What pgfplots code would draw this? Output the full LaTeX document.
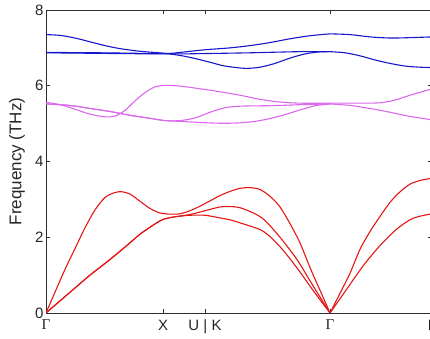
\documentclass[border=0pt]{standalone}
\usepackage{fontspec}
\setmainfont{Liberation Sans}
\newfontfamily\seriffont{Liberation Serif}
\usepackage{pgfplots}
\pgfplotsset{compat=1.18}
\definecolor{bandblue}{RGB}{22,22,205}
\definecolor{bandmag}{RGB}{218,105,235}
\definecolor{bandred}{RGB}{228,22,22}
\definecolor{axgray}{RGB}{45,45,45}
\begin{document}
\begin{tikzpicture}
\begin{axis}[
  scale only axis, width=386pt, height=303pt,
  xmin=46, xmax=432, ymin=0, ymax=8,
  xtick={46,163,205,330,432},
  xticklabels={{\seriffont Γ}, X, U | K, {\seriffont Γ}, L},
  ytick={0,2,4,6,8},
  xtick pos=both, ytick pos=both,
  tick align=inside,
  major tick length=4pt,
  axis line style={axgray, line width=0.8pt},
  tick style={axgray, line width=0.8pt},
  ticklabel style={font=\fontsize{15}{17}\selectfont, text=black!85},
  yticklabel style={xshift=1pt},
  xticklabel style={yshift=-3.5pt},
  /pgf/number format/assume math mode=true,
  ylabel={Frequency (THz)},
  every axis y label/.style={at={(axis description cs:-0.075,0.5)}, rotate=90, anchor=center, font=\fontsize{17}{19}\selectfont, text=black!85},
  every axis plot/.append style={line width=1.1pt, smooth, no markers},
]
% blue optical
\addplot[bandblue] coordinates {(46,7.35)(60,7.33)(75,7.26)(90,7.16)(105,7.06)(120,6.98)(140,6.91)(163,6.86)(180,6.80)(195,6.72)(210,6.62)(225,6.52)(245,6.46)(260,6.49)(275,6.59)(290,6.73)(305,6.84)(318,6.89)(330,6.90)};
\addplot[bandblue] coordinates {(46,6.88)(100,6.87)(163,6.85)(180,6.88)(205,6.95)(230,7.0)(250,7.06)(270,7.14)(290,7.24)(310,7.32)(330,7.37)};
\addplot[bandblue] coordinates {(46,6.87)(163,6.84)(205,6.85)(250,6.87)(300,6.9)(330,6.9)};
\addplot[bandblue] coordinates {(330,6.90)(345,6.87)(360,6.79)(375,6.68)(390,6.59)(405,6.52)(420,6.49)(432,6.48)};
\addplot[bandblue] coordinates {(330,7.37)(350,7.35)(370,7.29)(390,7.26)(410,7.27)(432,7.29)};
% magenta optical
\addplot[bandmag] coordinates {(46,5.56)(60,5.5)(75,5.38)(90,5.25)(105,5.18)(115,5.2)(125,5.35)(135,5.6)(145,5.82)(155,5.97)(165,6.01)(180,5.99)(200,5.92)(220,5.84)(240,5.75)(260,5.64)(280,5.57)(300,5.54)(330,5.54)};
\addplot[bandmag] coordinates {(46,5.52)(70,5.48)(90,5.4)(110,5.32)(130,5.22)(150,5.14)(165,5.08)(180,5.08)(195,5.15)(210,5.3)(225,5.42)(240,5.46)(260,5.47)(280,5.48)(300,5.5)(330,5.52)};
\addplot[bandmag] coordinates {(46,5.52)(70,5.48)(90,5.4)(110,5.32)(130,5.22)(150,5.14)(165,5.08)(180,5.06)(200,5.03)(220,5.01)(240,5.02)(260,5.08)(280,5.2)(300,5.36)(315,5.47)(330,5.52)};
\addplot[bandmag] coordinates {(330,5.54)(360,5.54)(380,5.55)(395,5.62)(410,5.75)(432,5.92)};
\addplot[bandmag] coordinates {(330,5.52)(350,5.48)(370,5.4)(390,5.3)(410,5.19)(432,5.1)};
% red acoustic
\addplot[bandred] coordinates {(46,0)(55,0.55)(65,1.15)(75,1.7)(85,2.25)(95,2.72)(105,3.05)(115,3.18)(122,3.2)(130,3.14)(140,2.95)(150,2.76)(160,2.64)(170,2.61)(180,2.62)(190,2.7)(200,2.82)(210,2.96)(220,3.1)(230,3.21)(240,3.29)(250,3.31)(260,3.26)(270,3.08)(280,2.8)(290,2.36)(300,1.85)(310,1.2)(320,0.6)(330,0)};
\addplot[bandred] coordinates {(46,0)(60,0.32)(75,0.66)(90,1.0)(107,1.35)(125,1.74)(140,2.08)(152,2.3)(163,2.47)(175,2.54)(190,2.6)(205,2.7)(220,2.8)(230,2.81)(240,2.78)(255,2.62)(265,2.44)(280,2.0)(297,1.41)(313,0.72)(330,0)};
\addplot[bandred] coordinates {(46,0)(60,0.32)(75,0.66)(90,1.0)(107,1.35)(125,1.74)(140,2.08)(152,2.3)(163,2.47)(175,2.54)(190,2.58)(205,2.58)(220,2.51)(230,2.46)(240,2.38)(263,2.16)(280,1.75)(297,1.19)(313,0.6)(330,0)};
\addplot[bandred] coordinates {(330,0)(340,0.52)(350,1.05)(360,1.68)(370,2.15)(380,2.55)(390,2.92)(400,3.2)(410,3.4)(420,3.5)(432,3.56)};
\addplot[bandred] coordinates {(330,0)(347,0.64)(363,1.24)(380,1.78)(397,2.22)(413,2.5)(432,2.62)};
\end{axis}
\pgfresetboundingbox
\path[use as bounding box] ([xshift=-46pt,yshift=-26pt]current axis.south west) rectangle ([xshift=-2pt,yshift=10pt]current axis.north east);
\end{tikzpicture}
\end{document}
